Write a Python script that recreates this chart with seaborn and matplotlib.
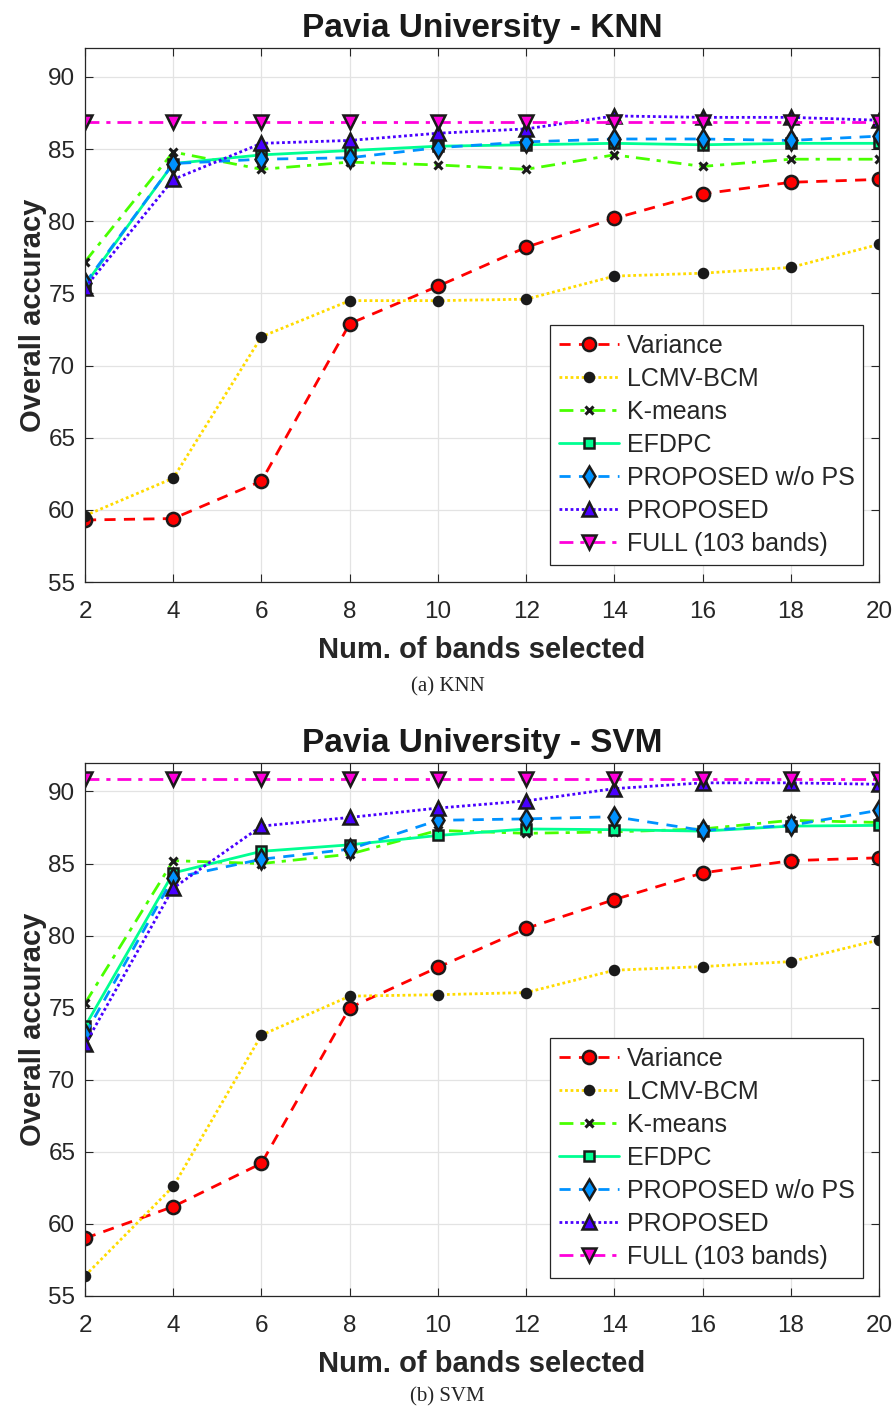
import numpy as np
import pandas as pd
import seaborn as sns
import matplotlib
matplotlib.use("Agg")
import matplotlib.pyplot as plt

# number of selected bands
bands = [2, 4, 6, 8, 10, 12, 14, 16, 18, 20]

methods = ['Variance', 'LCMV-BCM', 'K-means', 'EFDPC',
           'PROPOSED w/o PS', 'PROPOSED', 'FULL (103 bands)']

# KNN overall accuracy
knn_variance = [59.3, 59.4, 62.0, 72.9, 75.5, 78.2, 80.2, 81.9, 82.7, 82.9]
knn_lcmv = [59.6, 62.2, 72.0, 74.5, 74.5, 74.6, 76.2, 76.4, 76.8, 78.4]
knn_kmeans = [77.2, 84.8, 83.6, 84.1, 83.9, 83.6, 84.6, 83.8, 84.3, 84.3]
knn_efdpc = [75.6, 84.0, 84.6, 84.9, 85.2, 85.3, 85.4, 85.3, 85.4, 85.4]
knn_prop_nops = [75.7, 84.0, 84.3, 84.4, 85.1, 85.5, 85.7, 85.7, 85.6, 85.9]
knn_prop = [75.4, 82.9, 85.4, 85.6, 86.1, 86.4, 87.3, 87.2, 87.2, 87.0]
knn_full = [86.85] * 10

# SVM overall accuracy
svm_variance = [59.0, 61.2, 64.2, 75.0, 77.8, 80.5, 82.5, 84.35, 85.2, 85.4]
svm_lcmv = [56.4, 62.6, 73.1, 75.8, 75.9, 76.05, 77.6, 77.85, 78.2, 79.7]
svm_kmeans = [75.3, 85.2, 85.0, 85.65, 87.3, 87.1, 87.2, 87.4, 88.0, 87.85]
svm_efdpc = [73.7, 84.35, 85.85, 86.3, 86.95, 87.4, 87.35, 87.25, 87.6, 87.65]
svm_prop_nops = [73.15, 84.0, 85.3, 86.0, 88.0, 88.1, 88.25, 87.3, 87.65, 88.7]
svm_prop = [72.45, 83.3, 87.6, 88.2, 88.85, 89.35, 90.2, 90.6, 90.6, 90.5]
svm_full = [90.9] * 10

# hsv(7) like colours
colors = ['#ff0000', '#ffdb00', '#49ff00', '#00ff92', '#0092ff', '#4900ff', '#ff00db']
styles = [(0, (4, 3)), (0, (1, 1)), (0, (5, 2.5, 1.5, 2.5)), '-',
          (0, (4, 3)), (0, (1, 1)), (0, (5, 2.5, 1.5, 2.5))]
markers = ['o', 'o', 'x', 's', 'd', '^', 'v']
msizes = [9.5, 6.5, 6, 7, 10.5, 10.5, 10.5]
mfaces = [colors[0], 'k', 'k', colors[3], colors[4], colors[5], colors[6]]

sns.set_theme(style='ticks')
plt.rcParams['font.family'] = ['Liberation Sans', 'DejaVu Sans']

fig = plt.figure(figsize=(8.95, 14.1), dpi=100)
ax1 = fig.add_axes([0.0950, 0.5872, 0.8872, 0.3787])
ax2 = fig.add_axes([0.0950, 0.0809, 0.8872, 0.3782])

panels = [
    (ax1, 'Pavia University - KNN', [knn_variance, knn_lcmv, knn_kmeans, knn_efdpc,
                                     knn_prop_nops, knn_prop, knn_full], 0.032),
    (ax2, 'Pavia University - SVM', [svm_variance, svm_lcmv, svm_kmeans, svm_efdpc,
                                     svm_prop_nops, svm_prop, svm_full], 0.034),
]

for ax, title, series, leg_y in panels:
    for i, vals in enumerate(series):
        df = pd.DataFrame({'bands': bands, 'acc': vals})
        sns.lineplot(data=df, x='bands', y='acc', ax=ax, color=colors[i],
                     linestyle=styles[i], linewidth=2, marker=markers[i],
                     markersize=msizes[i], markerfacecolor=mfaces[i],
                     markeredgecolor='k', markeredgewidth=1.8 if markers[i] != 'x' else 2.2,
                     label=methods[i], legend=False)

    ax.set_xlim(2, 20)
    ax.set_ylim(55, 92)
    ax.set_xticks(bands)
    ax.set_yticks([55, 60, 65, 70, 75, 80, 85, 90])
    ax.grid(True, color='#e3e3e3', linewidth=0.9)
    ax.set_axisbelow(True)
    ax.tick_params(direction='in', top=True, right=True, length=6, width=0.8,
                   labelsize=17.5, colors='#262626')
    ax.tick_params(axis='x', pad=14)
    ax.tick_params(axis='y', pad=7)
    for sp in ax.spines.values():
        sp.set_color('#262626')
        sp.set_linewidth(0.9)

    ax.set_title(title, fontsize=24, fontweight='bold', color='k', pad=8)
    ax.set_xlabel('Num. of bands selected', fontsize=21, fontweight='bold',
                  color='#262626', labelpad=9)
    ax.set_ylabel('Overall accuracy', fontsize=21, fontweight='bold',
                  color='#262626', labelpad=1)

    leg = ax.legend(loc='lower right', bbox_to_anchor=(0.98, leg_y), borderaxespad=0,
                    fontsize=18, handlelength=2.4, labelspacing=0.36,
                    handletextpad=0.3, borderpad=0.35, fancybox=False, framealpha=1)
    leg.get_frame().set_edgecolor('#262626')
    leg.get_frame().set_linewidth(0.9)

fig.text(0.5, 1 - 687 / 1410, '(a) KNN', ha='center', va='center',
         family='Liberation Serif', fontsize=15)
fig.text(0.5, 1 - 1397 / 1410, '(b) SVM', ha='center', va='center',
         family='Liberation Serif', fontsize=15)

fig.savefig('out.png', dpi=100)
